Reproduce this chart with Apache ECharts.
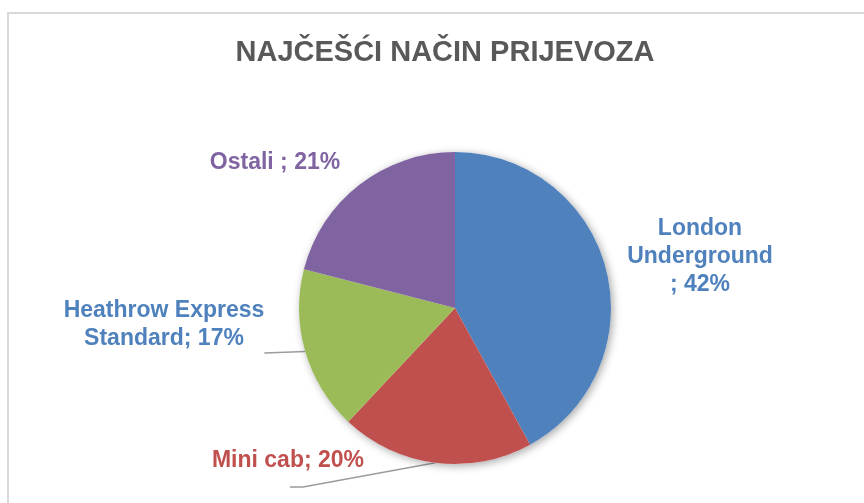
<!DOCTYPE html>
<html>
<head>
<meta charset="utf-8">
<title>Najčešći način prijevoza</title>
<script src="https://cdn.jsdelivr.net/npm/echarts@6/dist/echarts.min.js"></script>
<style>
  html, body { margin: 0; padding: 0; background: #fff; }
  #wrap { position: relative; width: 864px; height: 503px; overflow: hidden; }
  #frame { position: absolute; left: 7px; top: 12px; width: 900px; height: 600px; border: 2px solid #D9D9D9; box-sizing: border-box; }
  #chart { position: absolute; left: 0; top: 0; width: 864px; height: 503px; }
</style>
</head>
<body>
<div id="wrap">
  <div id="frame"></div>
  <div id="chart"></div>
</div>
<script>
// podaci
const categories = ['London Underground', 'Mini cab', 'Heathrow Express Standard', 'Ostali']
const shares = [42, 20, 17, 21]
// tekst oznaka (s prijelomima kao na slici)
const labelNames = ['London\nUnderground\n', 'Mini cab', 'Heathrow Express\nStandard', 'Ostali ']

// boje
const sliceColors = ['#4F81BD', '#C0504D', '#9BBB59', '#8064A2']
const labelColors = ['#4F81BD', '#C0504D', '#4F81BD', '#8064A2']
// središta oznaka
const labelPos = [[700, 257], [288, 461], [164, 325], [275, 163]]
const showLine = [false, true, true, false]

const center = [455, 308]
const radius = 156

const chart = echarts.init(document.getElementById('chart'), null, { renderer: 'canvas' })

const option = {
  animation: false,
  backgroundColor: 'transparent',
  title: {
    text: 'NAJČEŠĆI NAČIN PRIJEVOZA',
    left: 440,
    top: 33,
    textAlign: 'center',
    textStyle: {
      fontFamily: 'Liberation Sans, Arial, sans-serif',
      fontSize: 29,
      fontWeight: 'bold',
      color: '#595959'
    }
  },
  series: [
    {
      // sjena ispod kruga
      type: 'pie',
      silent: true,
      center: center,
      radius: radius,
      label: { show: false },
      labelLine: { show: false },
      itemStyle: {
        color: '#fff',
        shadowBlur: 8,
        shadowColor: 'rgba(0,0,0,0.35)',
        shadowOffsetX: 2,
        shadowOffsetY: 2
      },
      data: [{ value: 1, name: '' }]
    },
    {
      type: 'pie',
      center: center,
      radius: radius,
      startAngle: 90,
      clockwise: true,
      silent: true,
      data: categories.map((name, i) => ({
        name: name,
        value: shares[i],
        itemStyle: { color: sliceColors[i] },
        label: { color: labelColors[i] },
        labelLine: { show: showLine[i] }
      })),
      label: {
        show: true,
        position: 'outside',
        fontFamily: 'Liberation Sans, Arial, sans-serif',
        fontSize: 23,
        fontWeight: 'bold',
        lineHeight: 28,
        align: 'center',
        formatter: p => labelNames[p.dataIndex] + '; ' + p.value + '%'
      },
      labelLine: {
        show: true,
        length: 10,
        length2: 10,
        lineStyle: { color: '#9C9C9C', width: 1.4 }
      },
      labelLayout: function (params) {
        const i = params.dataIndex
        const pos = labelPos[i]
        const w = params.labelRect.width
        const h = params.labelRect.height
        const res = { x: pos[0], y: pos[1], align: 'center', verticalAlign: 'middle' }
        const pts = params.labelLinePoints
        if (showLine[i] && pts) {
          const right = pos[0] + w / 2
          const bottom = pos[1] + h / 2
          if (i === 2) {
            res.labelLinePoints = [pts[0], [right, bottom], [right, bottom]]
          } else {
            res.labelLinePoints = [pts[0], [pos[0] + 15, bottom + 12], [pos[0] + 2, bottom + 12]]
          }
        }
        return res
      }
    }
  ]
}

chart.setOption(option)
</script>
</body>
</html>
